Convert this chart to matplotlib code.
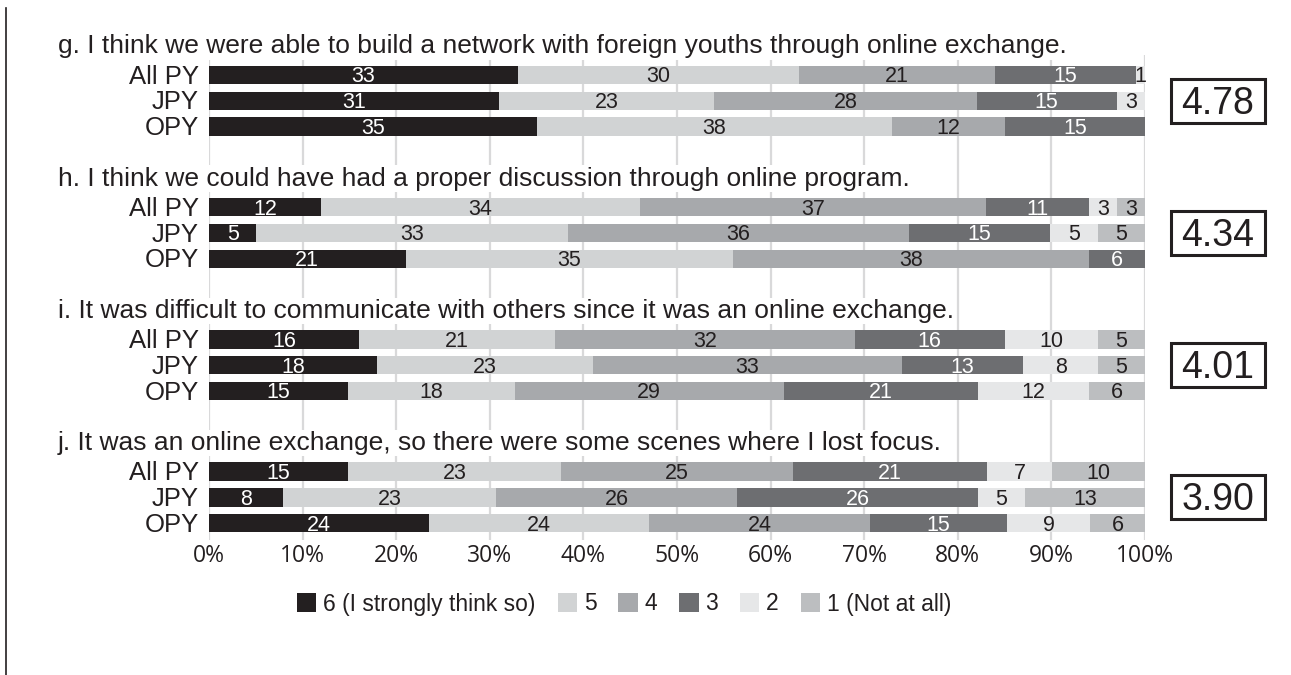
import matplotlib
matplotlib.use("Agg")
import matplotlib.pyplot as plt
import matplotlib.transforms as mtrans
from matplotlib.patches import Rectangle, Patch
from matplotlib.lines import Line2D
import numpy as np

plt.rcParams['font.family'] = ['Liberation Sans', 'DejaVu Sans']

# ---------------- data ----------------
questions = [
    "g. I think we were able to build a network with foreign youths through online exchange.",
    "h. I think we could have had a proper discussion through online program.",
    "i. It was difficult to communicate with others since it was an online exchange.",
    "j. It was an online exchange, so there were some scenes where I lost focus.",
]
groups = ["All PY", "JPY", "OPY"]
levels = ["6 (I strongly think so)", "5", "4", "3", "2", "1 (Not at all)"]
means = ["4.78", "4.34", "4.01", "3.90"]

# percentages per level [6,5,4,3,2,1] for All PY, JPY, OPY
q_g = [[33, 30, 21, 15, 1, 0], [31, 23, 28, 15, 3, 0], [35, 38, 12, 15, 0, 0]]
q_h = [[12, 34, 37, 11, 3, 3], [5, 33, 36, 15, 5, 5], [21, 35, 38, 6, 0, 0]]
q_i = [[16, 21, 32, 16, 10, 5], [18, 23, 33, 13, 8, 5], [15, 18, 29, 21, 12, 6]]
q_j = [[15, 23, 25, 21, 7, 10], [8, 23, 26, 26, 5, 13], [24, 24, 24, 15, 9, 6]]
all_q = [q_g, q_h, q_i, q_j]

xticks = [0, 10, 20, 30, 40, 50, 60, 70, 80, 90, 100]
xtick_labels = [f"{t}%" for t in xticks]

# ---------------- style ----------------
colors = ['#231f20', '#d1d3d4', '#a7a9ac', '#6d6e71', '#e6e7e8', '#bcbec0']
label_colors = ['white', '#231f20', '#231f20', 'white', '#231f20', '#231f20']
dark = '#231f20'

W, H = 1291, 675
fig = plt.figure(figsize=(W / 100, H / 100), dpi=100)
ax_left, ax_right, ax_top, ax_bottom = 209, 1145, 55, 540
ax = fig.add_axes([ax_left / W, 1 - ax_bottom / H, (ax_right - ax_left) / W, (ax_bottom - ax_top) / H])
ax.set_xlim(0, 100)
ax.set_ylim(ax_bottom, ax_top)  # y data units == pixels

FIRST = 75.0
GROUP_STEP = 132.2
ROW_STEP = 25.8
BAR_H = 18.5

for gi, q in enumerate(all_q):
    base = FIRST + gi * GROUP_STEP
    for ri, row in enumerate(q):
        y = base + ri * ROW_STEP
        vals = np.array(row, dtype=float)
        widths = vals / vals.sum() * 100
        left = 0.0
        for li, (v, w) in enumerate(zip(row, widths)):
            if v > 0:
                ax.barh(y, w, left=left, height=BAR_H, color=colors[li], zorder=2, linewidth=0)
                ax.text(left + w / 2, y + 7.5, str(v), ha='center', va='baseline',
                        fontsize=15.5, color=label_colors[li], zorder=3)
            left += w

# grid
ax.set_xticks(xticks)
ax.set_xticklabels(xtick_labels, fontfamily='Open Sans', fontsize=16.5, color=dark)
ax.tick_params(axis='x', length=0, pad=3)
ax.set_yticks([])
ax.grid(axis='x', color='#d9d9da', linewidth=1.6, zorder=0)
ax.set_axisbelow(True)
for s in ax.spines.values():
    s.set_visible(False)

tr_axx = mtrans.blended_transform_factory(ax.transAxes, ax.transData)
tr_figx = mtrans.blended_transform_factory(fig.transFigure, ax.transData)

for gi, (qtext, mean) in enumerate(zip(questions, means)):
    base = FIRST + gi * GROUP_STEP
    # question title
    ax.text((58 - ax_left) / (ax_right - ax_left), base - 21.5, qtext, transform=tr_axx,
            ha='left', va='baseline', fontsize=19, color=dark, clip_on=False, zorder=5,
            bbox=dict(facecolor='white', edgecolor='none', pad=1.0))
    # row labels
    for ri, g in enumerate(groups):
        y = base + ri * ROW_STEP
        ax.text((199 - ax_left) / (ax_right - ax_left), y + 8.5, g, transform=tr_axx,
                ha='right', va='baseline', fontsize=18.5, color=dark, clip_on=False)
    # mean box
    yc = base + ROW_STEP
    rect = Rectangle((1171 / W, yc - 22), 94 / W, 44, transform=tr_figx,
                     facecolor='white', edgecolor=dark, linewidth=2.2, clip_on=False)
    ax.add_patch(rect)
    ax.text(1218 / W, yc + 13, mean, transform=tr_figx, ha='center', va='baseline',
            fontsize=27, color=dark, clip_on=False)

# legend
handles = [Patch(facecolor=c, edgecolor='none') for c in colors]
fig.legend(handles, levels, loc='center left', bbox_to_anchor=(297 / W, 1 - 604 / H),
           ncol=6, frameon=False, fontsize=16.5, handlelength=0.85, handleheight=0.85,
           handletextpad=0.3, columnspacing=0.95, borderpad=0, borderaxespad=0,
           labelcolor=dark)

# left border line
fig.add_artist(Line2D([6 / W, 6 / W], [0, 1 - 8 / H], transform=fig.transFigure,
                      color=dark, linewidth=1.2))

fig.savefig("out.png", dpi=100)
